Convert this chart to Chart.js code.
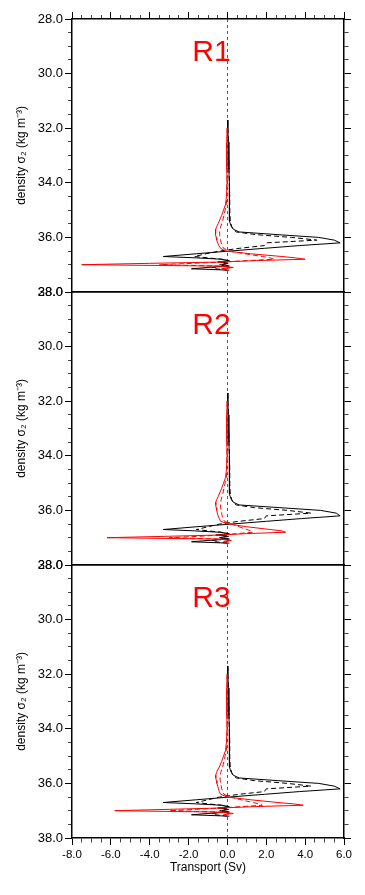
<!DOCTYPE html>
<html>
<head>
<meta charset="utf-8">
<script src="https://cdn.jsdelivr.net/npm/chart.js@4.4.0/dist/chart.umd.min.js"></script>
<style>
  html, body { margin: 0; padding: 0; background: #ffffff; }
  #wrap { position: relative; width: 365px; height: 895px; }
  canvas { position: absolute; left: 0; top: 0; }
</style>
</head>
<body>
<div id="wrap">
  <canvas id="c1" width="365" height="895"></canvas>
  <canvas id="c2" width="365" height="895"></canvas>
  <canvas id="c3" width="365" height="895"></canvas>
</div>
<script>
// ---------------- data ----------------
const panelNames = ['R1', 'R2', 'R3'];
// density levels (sigma_2, kg m-3)
const sigma = [31.7, 32.0, 32.5, 33.0, 33.5, 34.0, 34.5, 34.8, 35.0, 35.2, 35.4, 35.5, 35.6, 35.7, 35.8, 35.9,
               36.0, 36.1, 36.2, 36.3, 36.4, 36.5, 36.6, 36.7, 36.75, 36.8, 36.85, 36.9, 36.95, 37.0, 37.05, 37.1, 37.15, 37.2];

// Transport (Sv) per density level
const blackSolidR1 = [0.0, 0.02, 0.05, 0.07, 0.08, 0.1, 0.1, 0.1, 0.1, 0.1, 0.12, 0.15, 0.2, 0.3, 0.6, 2.6,
                      4.7, 5.5, 5.8, 3.7, 1.9, 0.1, -1.6, -3.3, -1.6, -0.3, 0.1, -0.5, 0.0, -0.3, 0.1, -1.0, -1.85, 0.1];
const blackDashR1  = [0.02, 0.03, 0.05, 0.06, 0.08, 0.1, 0.12, 0.12, 0.12, 0.13, 0.15, 0.18, 0.22, 0.3, 0.45, 1.5,
                      3.3, 4.6, 2.0, 1.9, 0.6, -0.4, -1.1, -1.7, -1.0, -0.3, 0.0, -0.3, 0.1, -0.4, -0.1, -0.8, -0.6, 0.0];
const redSolidR1   = [null, -0.02, -0.03, -0.03, -0.03, -0.02, -0.05, -0.1, -0.2, -0.3, -0.42, -0.48, -0.55, -0.6, -0.62, -0.6,
                      -0.58, -0.55, -0.5, -0.45, -0.35, -0.1, 1.2, 2.8, 3.5, 4.0, 1.5, -0.2, -4.0, -7.5, -0.5, 0.3, -0.3, 0.0];
const redDashR1    = [null, -0.01, -0.02, -0.02, -0.02, -0.02, -0.03, -0.06, -0.12, -0.18, -0.25, -0.3, -0.34, -0.38, -0.4, -0.4,
                      -0.38, -0.35, -0.32, -0.28, -0.2, 0.1, 0.9, 1.8, 2.2, 2.4, 1.0, -0.2, -1.8, -3.5, -0.4, 0.2, -0.2, 0.0];

const blackSolidR2 = [0.0, 0.02, 0.05, 0.07, 0.08, 0.1, 0.1, 0.1, 0.1, 0.1, 0.12, 0.15, 0.2, 0.3, 0.6, 2.7,
                      4.8, 5.6, 5.8, 3.8, 2.0, 0.2, -1.6, -3.3, -1.7, -0.4, 0.1, -0.6, 0.0, -0.4, 0.1, -1.0, -1.85, 0.1];
const blackDashR2  = [0.02, 0.03, 0.05, 0.06, 0.08, 0.1, 0.12, 0.12, 0.12, 0.13, 0.15, 0.18, 0.22, 0.3, 0.45, 1.4,
                      3.1, 4.3, 2.0, 1.9, 0.6, -0.4, -1.0, -1.6, -1.0, -0.3, 0.0, -0.3, 0.1, -0.4, -0.1, -0.8, -0.6, 0.0];
const redSolidR2   = [null, -0.02, -0.03, -0.03, -0.03, -0.02, -0.05, -0.1, -0.2, -0.3, -0.42, -0.48, -0.55, -0.6, -0.6, -0.58,
                      -0.55, -0.52, -0.48, -0.42, -0.35, 0.1, 1.0, 2.2, 2.8, 3.0, 1.0, -0.3, -3.2, -6.2, -0.5, 0.2, -0.2, 0.0];
const redDashR2    = [null, -0.01, -0.02, -0.02, -0.02, -0.02, -0.03, -0.06, -0.12, -0.18, -0.24, -0.28, -0.32, -0.35, -0.36, -0.35,
                      -0.33, -0.3, -0.27, -0.23, -0.15, 0.2, 0.6, 1.0, 1.2, 1.3, 0.5, -0.3, -1.5, -3.0, -0.3, 0.1, -0.1, 0.0];

const blackSolidR3 = [0.0, 0.02, 0.05, 0.07, 0.08, 0.1, 0.1, 0.1, 0.1, 0.1, 0.12, 0.15, 0.2, 0.3, 0.6, 2.6,
                      4.7, 5.5, 5.8, 3.7, 1.9, 0.1, -1.6, -3.3, -1.6, -0.3, 0.1, -0.5, 0.0, -0.3, 0.1, -1.0, -1.85, 0.1];
const blackDashR3  = [0.02, 0.03, 0.05, 0.06, 0.08, 0.1, 0.12, 0.12, 0.12, 0.13, 0.15, 0.18, 0.22, 0.3, 0.45, 1.4,
                      3.1, 4.3, 2.0, 1.9, 0.6, -0.4, -1.0, -1.6, -1.0, -0.3, 0.0, -0.3, 0.1, -0.4, -0.1, -0.8, -0.6, 0.0];
const redSolidR3   = [null, -0.02, -0.03, -0.03, -0.03, -0.02, -0.05, -0.1, -0.2, -0.3, -0.42, -0.5, -0.56, -0.6, -0.6, -0.57,
                      -0.54, -0.5, -0.46, -0.42, -0.35, 0.0, 1.2, 2.6, 3.4, 3.9, 1.4, -0.3, -3.0, -5.8, -0.5, 0.3, -0.2, 0.0];
const redDashR3    = [null, -0.01, -0.02, -0.02, -0.02, -0.02, -0.03, -0.06, -0.12, -0.18, -0.25, -0.3, -0.34, -0.37, -0.38, -0.37,
                      -0.35, -0.32, -0.29, -0.25, -0.18, 0.15, 0.7, 1.3, 1.6, 1.8, 0.7, -0.3, -1.6, -3.0, -0.3, 0.1, -0.1, 0.0];

// axes
const xTickLabels = ['-8.0', '-6.0', '-4.0', '-2.0', '0.0', '2.0', '4.0', '6.0'];
const yTickLabels = ['28.0', '30.0', '32.0', '34.0', '36.0', '38.0'];
const zeroLineX = [0, 0];
const zeroLineY = [28, 38];

// ---------------- drawing ----------------
const FONT = 'Liberation Sans, Arial, Helvetica, sans-serif';
const xMin = -8, xMax = 6, yMin = 28, yMax = 38;

function toPoints(vals) {
  const pts = [];
  vals.forEach((v, i) => { if (v !== null) pts.push({ x: v, y: sigma[i] }); });
  return pts;
}
function isMajor(v) { return Math.abs(v % 2) < 1e-9; }

const panelLabelPlugin = {
  id: 'panelLabel',
  afterDraw(chart, args, opts) {
    const ca = chart.chartArea;
    const ctx = chart.ctx;
    ctx.save();
    ctx.fillStyle = '#ff0000';
    ctx.font = '30px ' + FONT;
    ctx.textAlign = 'center';
    ctx.textBaseline = 'alphabetic';
    ctx.fillText(opts.text, ca.left + 139.5, ca.top + 42);
    ctx.restore();
  }
};

function fmtX(v) {
  if (!isMajor(v)) return '';
  const i = Math.round((v - xMin) / 2);
  return xTickLabels[i];
}
function fmtY(v) {
  if (!isMajor(v)) return '';
  const i = Math.round((v - yMin) / 2);
  return yTickLabels[i];
}

function makeChart(id, idx, vals, cfg) {
  const [ks, kd, rs, rd] = vals;
  const border = { display: true, color: '#000', width: 1.5 };
  const dashOuterFirst = (c) => (c.tick && isMajor(c.tick.value)) ? [] : [0, 3, 20, 1];
  const dashInnerFirst = (c) => (c.tick && isMajor(c.tick.value)) ? [] : [4, 20];
  const tickCol = (c) => (c.tick && isMajor(c.tick.value)) ? '#000' : '#444';

  new Chart(document.getElementById(id), {
    type: 'scatter',
    data: {
      datasets: [
        { data: toPoints(rs), borderColor: '#ff0000', borderWidth: 1, order: 0 },
        { data: toPoints(rd), borderColor: '#ff0000', borderWidth: 1, borderDash: [5, 3], order: 1 },
        { data: toPoints(ks), borderColor: '#000000', borderWidth: 1, order: 2 },
        { data: toPoints(kd), borderColor: '#000000', borderWidth: 1, borderDash: [5, 3], order: 3 },
        { data: zeroLineX.map((x, i) => ({ x: x, y: zeroLineY[i] })), borderColor: '#333333', borderWidth: 0.8, borderDash: [3, 3], order: 4 }
      ].map(d => Object.assign({ showLine: true, pointRadius: 0, pointHoverRadius: 0, fill: false, tension: 0 }, d))
    },
    options: {
      responsive: false,
      animation: false,
      events: [],
      layout: { padding: { left: 0, right: 14, top: cfg.padTop, bottom: cfg.padBottom } },
      plugins: { legend: { display: false }, tooltip: { enabled: false }, panelLabel: { text: panelNames[idx] } },
      scales: {
        x: {
          type: 'linear', position: 'bottom', min: xMin, max: xMax,
          border: border,
          grid: { drawOnChartArea: false, drawTicks: cfg.bottomAxis, tickLength: 7, tickWidth: 1, tickColor: tickCol, tickBorderDash: dashInnerFirst },
          ticks: { display: cfg.bottomAxis, stepSize: 0.5, autoSkip: false, maxRotation: 0, padding: 3, color: '#000', font: { family: FONT, size: 11.5 }, callback: fmtX },
          title: { display: cfg.bottomAxis, text: 'Transport (Sv)', color: '#000', font: { family: FONT, size: 12 }, padding: { top: 0, bottom: 3 } },
          afterFit: s => { s.height = cfg.bottomAxis ? 40 : 0; s.paddingLeft = 0; s.paddingRight = 0; }
        },
        xTop: {
          type: 'linear', axis: 'x', position: 'top', min: xMin, max: xMax,
          border: border,
          grid: { drawOnChartArea: false, drawTicks: cfg.topTicks, tickLength: 7, tickWidth: 1, tickColor: tickCol, tickBorderDash: dashOuterFirst },
          ticks: { display: false, stepSize: 0.5, autoSkip: false },
          afterFit: s => { s.height = cfg.topTicks ? 7 : 0; s.paddingLeft = 0; s.paddingRight = 0; }
        },
        y: {
          type: 'linear', position: 'left', min: yMin, max: yMax, reverse: true,
          border: border,
          grid: { drawOnChartArea: false, drawTicks: true, tickLength: 7, tickWidth: 1, tickColor: tickCol, tickBorderDash: dashOuterFirst },
          ticks: { stepSize: 0.5, autoSkip: false, padding: 2, color: '#000', font: { family: FONT, size: 13 }, callback: fmtY },
          title: { display: true, text: 'density σ₂ (kg m⁻³)', color: '#000', font: { family: FONT, size: 12 }, padding: { top: 14.5, bottom: 0 } },
          afterFit: s => { s.width = 72; s.paddingTop = 0; s.paddingBottom = 0; }
        },
        yRight: {
          type: 'linear', axis: 'y', position: 'right', min: yMin, max: yMax, reverse: true,
          border: border,
          grid: { drawOnChartArea: false, drawTicks: true, tickLength: 7, tickWidth: 1, tickColor: tickCol, tickBorderDash: dashInnerFirst },
          ticks: { display: false, stepSize: 0.5, autoSkip: false },
          afterFit: s => { s.width = 7; s.paddingTop = 0; s.paddingBottom = 0; }
        }
      }
    },
    plugins: [panelLabelPlugin]
  });
}

makeChart('c1', 0, [blackSolidR1, blackDashR1, redSolidR1, redDashR1], { padTop: 12, padBottom: 603, topTicks: true, bottomAxis: false });
makeChart('c2', 1, [blackSolidR2, blackDashR2, redSolidR2, redDashR2], { padTop: 292, padBottom: 330, topTicks: false, bottomAxis: false });
makeChart('c3', 2, [blackSolidR3, blackDashR3, redSolidR3, redDashR3], { padTop: 565, padBottom: 17, topTicks: false, bottomAxis: true });
</script>
</body>
</html>
